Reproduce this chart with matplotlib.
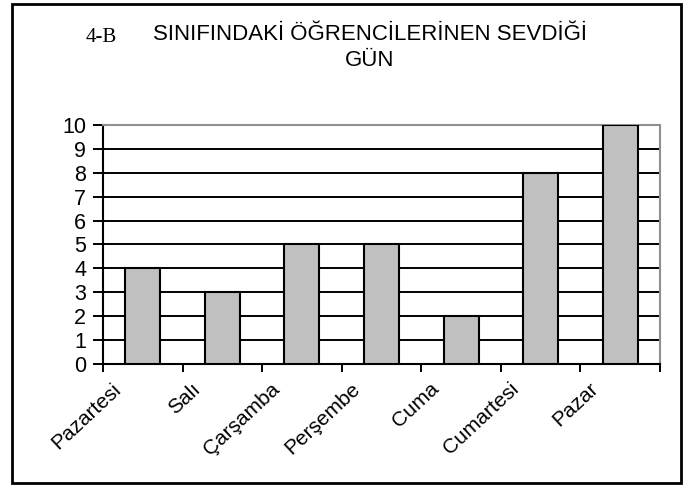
import matplotlib
matplotlib.use("Agg")
from matplotlib import pyplot as plt
from matplotlib.patches import Rectangle
from matplotlib.transforms import ScaledTranslation

days = ["Pazartesi", "Salı", "Çarşamba", "Perşembe", "Cuma", "Cumartesi", "Pazar"]
counts = [4, 3, 5, 5, 2, 8, 10]
y_ticks = list(range(0, 11))

plt.rcParams['font.family'] = ['Liberation Sans', 'DejaVu Sans']

fig = plt.figure(figsize=(6.92, 4.88), dpi=100)
ax = fig.add_axes([103 / 692, 1 - 364 / 488, 557 / 692, 239 / 488])

# horizontal grid lines
for v in y_ticks[1:-1]:
    ax.axhline(v, color="black", lw=1.4, zorder=1)

x = list(range(len(days)))
ax.bar(x, counts, width=0.44, color="#c0c0c0", edgecolor="black", lw=1.5, zorder=3)

ax.set_xlim(-0.5, len(days) - 0.5)
ax.set_ylim(0, 10)
ax.set_yticks(y_ticks)
ax.tick_params(axis="y", direction="out", length=7, width=1.4, labelsize=15.5, pad=5)

# tick marks at category boundaries, labels at centres
ax.set_xticks([i - 0.5 for i in range(len(days) + 1)], minor=True)
ax.set_xticks(x)
ax.set_xticklabels(days, rotation=43, ha="right", rotation_mode="anchor", fontsize=15)
ax.tick_params(axis="x", which="minor", direction="out", length=6, width=1.4)
ax.tick_params(axis="x", which="major", length=0, pad=11)
shift = ScaledTranslation(-31 / 100, 0, fig.dpi_scale_trans)
for lab in ax.get_xticklabels():
    lab.set_transform(lab.get_transform() + shift)

for side in ["left", "bottom"]:
    ax.spines[side].set_color("black")
    ax.spines[side].set_linewidth(1.5)
for side in ["top", "right"]:
    ax.spines[side].set_color("#909090")
    ax.spines[side].set_linewidth(1.5)

fig.text(370 / 692, 1 - 34 / 488, "SINIFINDAKİ ÖĞRENCİLERİNEN SEVDİĞİ",
         ha="center", va="center", fontsize=16)
fig.text(370 / 692, 1 - 61 / 488, "GÜN", ha="center", va="center", fontsize=16)
fig.text(101 / 692, 1 - 37 / 488, "4-B", ha="center", va="center", fontsize=15,
         family="Liberation Serif")

# outer frame
fig.patches.append(Rectangle((12 / 692, 5 / 488), 669 / 692, 479 / 488,
                             transform=fig.transFigure, fill=False,
                             edgecolor="black", lw=2))

fig.savefig("out.png", dpi=100)
